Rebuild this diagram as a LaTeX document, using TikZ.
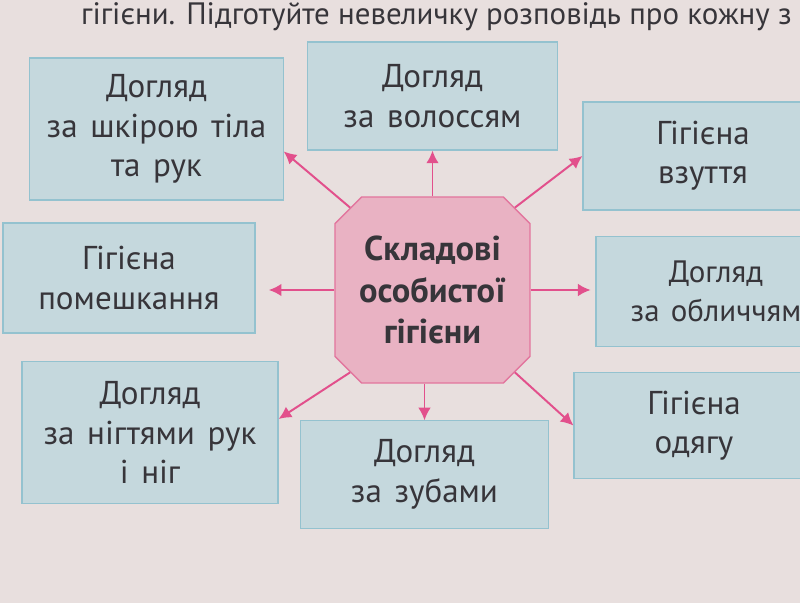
\documentclass[tikz,border=0pt]{standalone}
\usepackage{fontspec}
\setmainfont{PT Sans}
\usetikzlibrary{shapes.misc,arrows.meta}

\definecolor{paper}{RGB}{232,223,222}
\definecolor{boxfill}{RGB}{197,216,221}
\definecolor{boxline}{RGB}{148,194,207}
\definecolor{octfill}{RGB}{233,178,195}
\definecolor{octline}{RGB}{226,118,158}
\definecolor{arrowpink}{RGB}{226,80,140}
\definecolor{ink}{RGB}{55,53,58}

\begin{document}
\begin{tikzpicture}[x=0.025cm,y=-0.025cm,
        box/.style={draw=boxline,fill=boxfill,line width=0.8pt,align=center,text=ink,
            inner sep=0pt,font={\fontsize{23.5}{28}\selectfont\spaceskip=9pt}},
        arr/.style={-{Latex[length=9pt,width=9pt]},draw=arrowpink,line width=1.4pt}]
    \fill[paper] (0,0) rectangle (800,603);
    \useasboundingbox (0,0) rectangle (800,603);
    \begin{scope}
        \clip (0,0) rectangle (800,603);
        % line of the page text above
        \node[anchor=base east,text=ink,inner sep=0pt,font=\fontsize{22}{28}\selectfont] (note) at (792,25)
            {гігієни. Підготуйте невеличку розповідь про кожну з};
        % the eight boxes
        \node[box,minimum width=6.33cm,minimum height=3.55cm] (b1) at (156.5,129) {Догляд\\за шкірою тіла\\та рук};
        \node[box,minimum width=6.23cm,minimum height=2.7cm] (b2) at (432.5,96) {Догляд\\за волоссям};
        \node[box,minimum width=6.0cm,minimum height=2.7cm] (b3) at (703,156) {Гігієна\\взуття};
        \node[box,minimum width=6.3cm,minimum height=2.75cm] (b4) at (129,278) {Гігієна\\помешкання};
        \node[box,minimum width=6.0cm,minimum height=2.73cm,font={\fontsize{22}{28}\selectfont\spaceskip=8pt}] (b5) at (716,291.5) {Догляд\\за обличчям};
        \node[box,minimum width=6.4cm,minimum height=3.53cm] (b6) at (150,432.5) {Догляд\\за нігтями рук\\і ніг};
        \node[box,minimum width=6.18cm,minimum height=2.68cm] (b7) at (424.5,474.5) {Догляд\\за зубами};
        \node[box,minimum width=6.0cm,minimum height=2.63cm] (b8) at (694,425.5) {Гігієна\\одягу};
    \end{scope}
    % centre
    \node[chamfered rectangle,chamfered rectangle xsep=0.55cm,draw=octline,fill=octfill,line width=1pt,
        inner xsep=0pt,minimum width=4.875cm,minimum height=4.65cm,align=center,text=ink,
        font=\bfseries\fontsize{24.5}{29.5}\selectfont] (c) at (432.5,290) {Складові\\особистої\\гігієни};
    \draw[arr] (c.north) -- (b2.south);
    \draw[arr] (c.135) -- (b1.-10);
    \draw[arr] (c.45) -- (b3.west);
    \draw[arr,shorten >=0.33cm] (c.west) -- (c.west -| b4.east);
    \draw[arr,shorten >=0.12cm] (c.east) -- (c.east -| b5.west);
    \draw[arr] (c.-135) -- (b6.6);
    \draw[arr] (c.south -| b7.north) -- (b7.north);
    \draw[arr] (c.-45) -- (b8.west);
\end{tikzpicture}
\end{document}
